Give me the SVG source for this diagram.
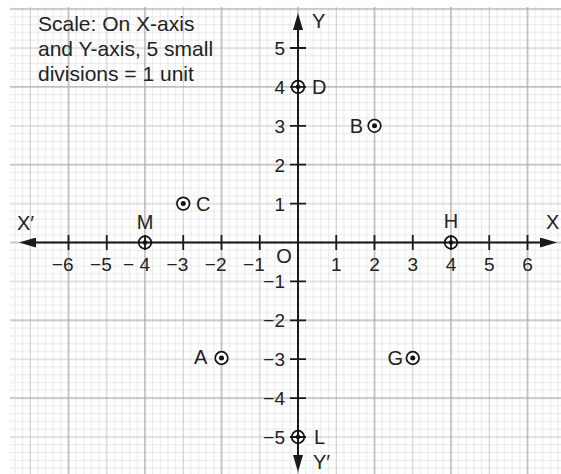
<svg xmlns="http://www.w3.org/2000/svg" width="561" height="474" viewBox="0 0 561 474">
<defs>
<style>
.minor{stroke:#e0e0e0;stroke-width:0.7;fill:none}
.mid{stroke:#c8c8c8;stroke-width:1;fill:none}
.major{stroke:#aaaaaa;stroke-width:1.3;fill:none}
.axis{stroke:#1a1a1a;stroke-width:2;fill:none}
.tick{stroke:#1a1a1a;stroke-width:1.8;fill:none}
text{font-family:"Liberation Sans",Arial,sans-serif;fill:#222}
.num{font-size:19px}
.lbl{font-size:20px}
.scale{font-size:21px}
.ring{stroke:#111;stroke-width:1.7;fill:#fff}
.ring-ax{stroke:#111;stroke-width:1.7;fill:none}
.dot{fill:#111}
</style>
<pattern id="grid" patternUnits="userSpaceOnUse" x="64.675" y="5.21" width="76.5" height="77.8">
<path class="minor" d="M11.475,0V77.8M19.125,0V77.8M26.775,0V77.8M34.425,0V77.8M49.725,0V77.8M57.375,0V77.8M65.025,0V77.8M72.675,0V77.8M0,11.67H76.5M0,19.45H76.5M0,27.23H76.5M0,35.01H76.5M0,50.57H76.5M0,58.35H76.5M0,66.13H76.5M0,73.91H76.5"/>
<path class="mid" d="M42.075,0V77.8M0,42.79H76.5"/>
<path class="major" d="M3.825,0V77.8M0,3.89H76.5"/>
</pattern>
<marker id="arr" viewBox="0 0 17 10" refX="9" refY="5" markerWidth="17" markerHeight="10" markerUnits="userSpaceOnUse" orient="auto-start-reverse">
<path d="M0,0 L17,5 L0,10 Z" fill="#1a1a1a"/>
</marker>
</defs>
<rect x="0" y="0" width="561" height="474" fill="#fff"/>
<rect x="10" y="7" width="551" height="467" fill="url(#grid)"/>

<g id="scale-note">
<text class="scale" x="38" y="31">Scale: On X-axis</text>
<text class="scale" x="38" y="56">and Y-axis, 5 small</text>
<text class="scale" x="38" y="81">divisions = 1 unit</text>
</g>

<g id="connectors">
<line class="axis" x1="27" y1="242.5" x2="549" y2="242.5" marker-start="url(#arr)" marker-end="url(#arr)"/>
<line class="axis" x1="298" y1="21" x2="298" y2="464" marker-start="url(#arr)" marker-end="url(#arr)"/>
<path class="tick" d="M68.5,235V250M106.75,235V250M145,235V250M183.25,235V250M221.5,235V250M259.75,235V250M336.25,235V250M374.5,235V250M412.75,235V250M451,235V250M489.25,235V250M527.5,235V250"/>
<path class="tick" d="M290,48H306M290,86.9H306M290,125.8H306M290,164.7H306M290,203.6H306M290,281.4H306M290,320.3H306M290,359.2H306M290,398.1H306M290,437H306"/>
</g>

<g id="axis-labels">
<text class="lbl" x="17" y="230">X′</text>
<text class="lbl" x="546" y="229">X</text>
<text class="lbl" x="312" y="28">Y</text>
<text class="lbl" x="313" y="469">Y′</text>
<text class="lbl" x="284" y="263" text-anchor="middle">O</text>
</g>

<g id="x-numbers" class="num">
<text x="73.5" y="271" text-anchor="end">−6</text>
<text x="111.75" y="271" text-anchor="end">−5</text>
<text x="150" y="271" text-anchor="end">− 4</text>
<text x="188.25" y="271" text-anchor="end">−3</text>
<text x="226.5" y="271" text-anchor="end">−2</text>
<text x="264.75" y="271" text-anchor="end">−1</text>
<text x="336.25" y="271" text-anchor="middle">1</text>
<text x="374.5" y="271" text-anchor="middle">2</text>
<text x="412.75" y="271" text-anchor="middle">3</text>
<text x="451" y="271" text-anchor="middle">4</text>
<text x="489.25" y="271" text-anchor="middle">5</text>
<text x="527.5" y="271" text-anchor="middle">6</text>
</g>

<g id="y-numbers" class="num" text-anchor="end">
<text x="285" y="55">5</text>
<text x="285" y="93.9">4</text>
<text x="285" y="132.8">3</text>
<text x="285" y="171.7">2</text>
<text x="285" y="210.6">1</text>
<text x="285" y="288.4">−1</text>
<text x="285" y="327.3">−2</text>
<text x="285" y="366.2">−3</text>
<text x="285" y="405.1">−4</text>
<text x="285" y="444">−5</text>
</g>

<g id="D"><circle class="ring-ax" cx="298" cy="86.9" r="6.3"/><circle class="dot" cx="298" cy="86.9" r="2.3"/><text class="lbl" x="312" y="94">D</text></g>
<g id="B"><circle class="ring" cx="374.5" cy="125.8" r="6.3"/><circle class="dot" cx="374.5" cy="125.8" r="2.5"/><text class="lbl" x="363" y="133" text-anchor="end">B</text></g>
<g id="C"><circle class="ring" cx="183.25" cy="203.6" r="6.3"/><circle class="dot" cx="183.25" cy="203.6" r="2.5"/><text class="lbl" x="196" y="211">C</text></g>
<g id="M"><circle class="ring-ax" cx="145" cy="242.5" r="6.3"/><circle class="dot" cx="145" cy="242.5" r="2.3"/><text class="lbl" x="145" y="229" text-anchor="middle">M</text></g>
<g id="H"><circle class="ring-ax" cx="451" cy="242.5" r="6.3"/><circle class="dot" cx="451" cy="242.5" r="2.3"/><text class="lbl" x="451" y="228" text-anchor="middle">H</text></g>
<g id="A"><circle class="ring" cx="221.5" cy="358" r="6.3"/><circle class="dot" cx="221.5" cy="358" r="2.5"/><text class="lbl" x="194" y="364">A</text></g>
<g id="G"><circle class="ring" cx="412.75" cy="358" r="6.3"/><circle class="dot" cx="412.75" cy="358" r="2.5"/><text class="lbl" x="403" y="365" text-anchor="end">G</text></g>
<g id="L"><circle class="ring-ax" cx="298" cy="437" r="6.3"/><circle class="dot" cx="298" cy="437" r="2.3"/><text class="lbl" x="314" y="444">L</text></g>
</svg>
